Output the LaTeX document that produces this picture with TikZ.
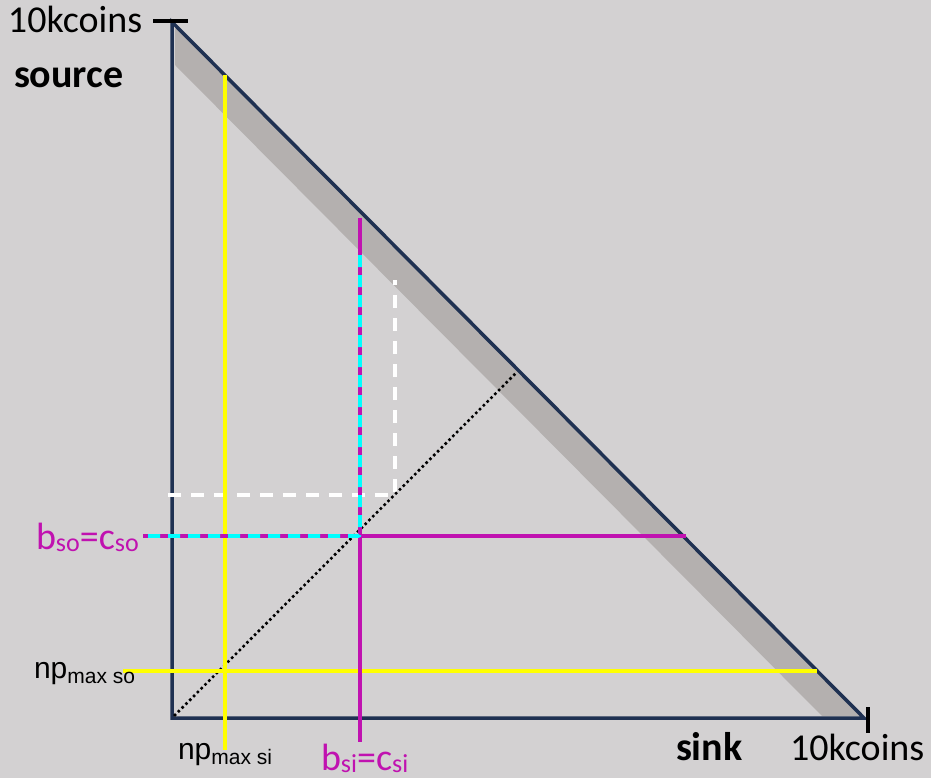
\documentclass[tikz,border=0pt]{standalone}
\usepackage{fontspec}
\setmainfont{Carlito}
\newfontfamily\arialf{Liberation Sans}
\definecolor{bgc}{RGB}{211,209,210}
\definecolor{bandc}{RGB}{180,176,175}
\definecolor{navyc}{RGB}{31,49,82}
\definecolor{magc}{RGB}{192,18,176}
\definecolor{yelc}{RGB}{255,255,0}
\definecolor{cyac}{RGB}{0,255,255}
\newcommand{\bigtxt}[1]{{\fontsize{38}{40}\selectfont #1}}
\newcommand{\boldtxt}[1]{{\fontsize{40}{42}\selectfont\bfseries #1}}
\newcommand{\subtxt}[1]{\raisebox{-2.5pt}{\fontsize{26}{28}\selectfont #1}}
\newcommand{\npmain}[1]{{\arialf\fontsize{30}{32}\selectfont #1}}
\newcommand{\npsub}[1]{\raisebox{-5pt}{\arialf\fontsize{21}{23}\selectfont #1}}
\tikzset{
  lbl/.style={inner sep=0pt, outer sep=0pt, anchor=base west},
  triline/.style={draw=navyc, line width=3.5pt, line join=miter},
  tick/.style={draw=black, line width=3.5pt},
  yline/.style={draw=yelc, line width=3.5pt},
  mline/.style={draw=magc, line width=3.5pt},
  cdash/.style={draw=cyac, line width=3.8pt, dash pattern=on 12pt off 8pt, rounded corners=2pt},
  wdash/.style={draw=white, line width=3.5pt, dash pattern=on 13pt off 10pt},
  dotline/.style={draw=black, line width=3.6pt, line cap=round, dash pattern=on 0pt off 5.4pt}
}
\begin{document}
\begin{tikzpicture}[x=1pt,y=-1pt]
\useasboundingbox (0,0) rectangle (931,778);
\fill[bgc] (0,0) rectangle (931,778);
% key points
\coordinate (A) at (172,22);
\coordinate (B) at (172,718);
\coordinate (C) at (864,718);
\coordinate (M) at (517,372);
\coordinate (D0) at (175,715);
% shaded band along the hypotenuse
\fill[bandc] (175,24) -- (175,65) -- (822,716) -- (862,716) -- cycle;
% triangle
\draw[triline] (A) -- (B) -- (C) -- cycle;
% white dashed guide
\coordinate (W1) at (168,495);
\coordinate (W2) at (395,495);
\coordinate (W3) at (395,280);
\draw[wdash] (W1) -- (W2) -- (W3);
% dotted diagonal
\draw[dotline] (D0) -- (M);
% yellow lines
\coordinate (Y1) at (225,75);
\coordinate (Y2) at (225,750);
\coordinate (Y3) at (123,671);
\coordinate (Y4) at (817,671);
\draw[yline] (Y1) -- (Y2);
\draw[yline] (Y3) -- (Y4);
% magenta lines
\coordinate (P1) at (360,218);
\coordinate (P2) at (360,742);
\coordinate (P3) at (143,536);
\coordinate (P4) at (686,536);
\draw[mline] (P1) -- (P2);
\draw[mline] (P3) -- (P4);
% cyan dashed overlay
\coordinate (Q1) at (360,255);
\coordinate (Q2) at (360,536);
\draw[cdash] (Q1) -- (Q2) -- (P3);
% ticks
\coordinate (T1) at (153,21);
\coordinate (T2) at (188,21);
\coordinate (T3) at (868,707);
\coordinate (T4) at (868,733);
\draw[tick] (T1) -- (T2);
\draw[tick] (T3) -- (T4);
% labels
\node[lbl] (ktop) at (8,33) {\bigtxt{10kcoins}};
\node[lbl] (src) at (14,88) {\boldtxt{source}};
\node[lbl] (snk) at (676,760) {\boldtxt{sink}};
\node[lbl] (kbot) at (790,760) {\bigtxt{10kcoins}};
\node[lbl, text=magc] (bso) at (36,549) {\bigtxt{b}\subtxt{so}\bigtxt{=c}\subtxt{so}};
\node[lbl, text=magc] (bsi) at (321,770) {\bigtxt{b}\subtxt{si}\bigtxt{=c}\subtxt{si}};
\node[lbl] (npso) at (34,678) {\npmain{np}\npsub{max so}};
\node[lbl] (npsi) at (178,759) {\npmain{np}\npsub{max si}};
\end{tikzpicture}
\end{document}
